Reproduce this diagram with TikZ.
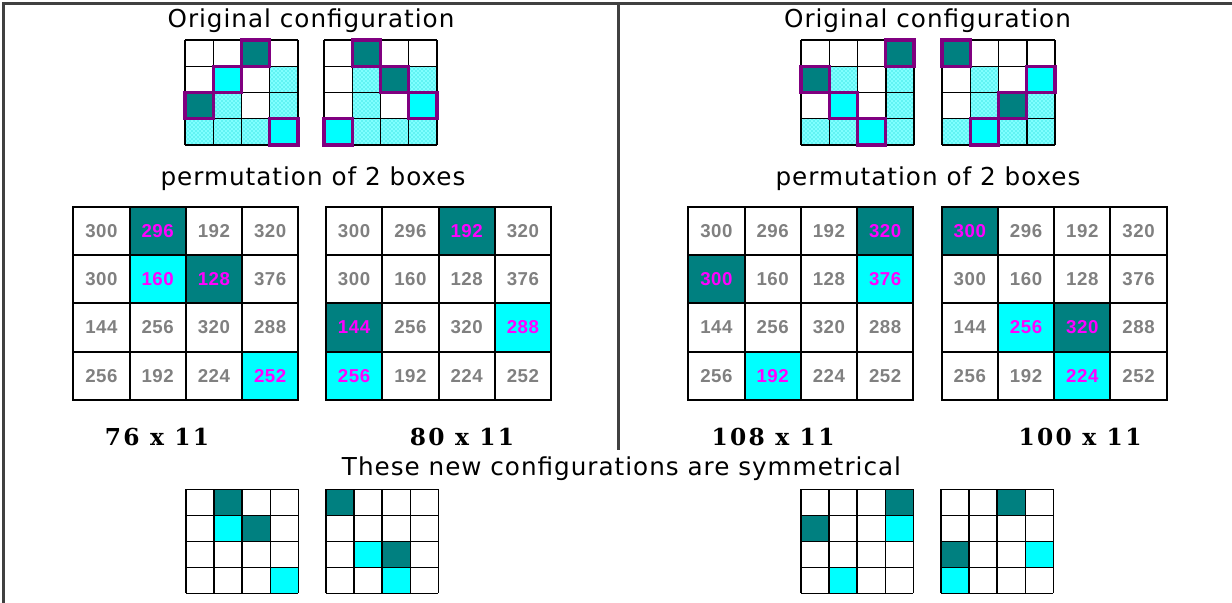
\documentclass[tikz,border=0pt]{standalone}
\usepackage{fontspec}
\usepackage{tikz}
\usetikzlibrary{patterns}
\setmainfont{DejaVu Sans}
\newfontfamily\titlefont[LetterSpace=4]{DejaVu Sans}
\newfontfamily\sizefont[LetterSpace=10]{DejaVu Serif}
\newfontfamily\numfont[LetterSpace=3]{Liberation Sans}
\definecolor{boxpurple}{RGB}{128,0,128}
\definecolor{framegray}{RGB}{64,64,64}
\definecolor{cellteal}{RGB}{0,128,128}
\definecolor{cellcyan}{RGB}{0,255,255}
\definecolor{pickmagenta}{RGB}{255,0,255}
\definecolor{numgray}{RGB}{128,128,128}

\begin{document}
\begin{tikzpicture}[x=0.75pt,y=0.75pt,yscale=-1,xscale=1,
  title/.style={anchor=base, inner sep=0pt, font=\titlefont\fontsize{18.5}{21}\selectfont},
  sizelabel/.style={anchor=base, inner sep=0pt, font=\sizefont\bfseries\fontsize{17.5}{20}\selectfont},
  tealcell/.style={fill=cellteal},
  cyancell/.style={fill=cellcyan},
  dotcell/.style={preaction={fill=cellcyan!50}, pattern=crosshatch dots, pattern color=cellcyan!80!black},
  thinline/.style={draw=black, line width=1.1pt},
  pickbox/.style={draw=boxpurple, line width=2.5pt},
  numcell/.style={draw=black, line width=1.5pt, minimum width=42.19pt, minimum height=36.23pt,
    inner sep=0pt, text=numgray, font=\numfont\bfseries\fontsize{14}{16}\selectfont},
  tealpick/.style={fill=cellteal, text=pickmagenta},
  cyanpick/.style={fill=cellcyan, text=pickmagenta},
  % picked cells of the four number grids
  perm1-0-1/.style={tealpick}, perm1-1-2/.style={tealpick},
  perm1-1-1/.style={cyanpick}, perm1-3-3/.style={cyanpick},
  perm2-0-2/.style={tealpick}, perm2-2-0/.style={tealpick},
  perm2-2-3/.style={cyanpick}, perm2-3-0/.style={cyanpick},
  perm3-0-3/.style={tealpick}, perm3-1-0/.style={tealpick},
  perm3-1-3/.style={cyanpick}, perm3-3-1/.style={cyanpick},
  perm4-0-0/.style={tealpick}, perm4-2-2/.style={tealpick},
  perm4-2-1/.style={cyanpick}, perm4-3-2/.style={cyanpick}]
\useasboundingbox (0,0) rectangle (1232,603);

%Straight Lines: frame and divider
\draw[framegray, line width=2.25pt] (3.5,603) -- (3.5,3) -- (1232,3);
\draw[framegray, line width=2pt] (618.5,3) -- (618.5,450);

% Text Node
\node[title] (origleft) at (311,27.5) {Original configuration};
% Text Node
\node[title] (origright) at (927.5,27.5) {Original configuration};

%Shape: Grid orig1
\begin{scope}[shift={(185,40)}, x=21.19pt, y=19.69pt]
\foreach \c/\r/\k in {3/1/dotcell,1/2/dotcell,3/2/dotcell,0/3/dotcell,1/3/dotcell,2/3/dotcell,
    2/0/tealcell,0/2/tealcell,1/1/cyancell,3/3/cyancell}
  \path[\k] (\c,\r) rectangle ++(1,1);
\foreach \i in {0,...,4} {\draw[thinline] (\i,0) -- (\i,4); \draw[thinline] (0,\i) -- (4,\i);}
\foreach \c/\r in {2/0,0/2,1/1,3/3} \draw[pickbox] (\c,\r) rectangle ++(1,1);
\end{scope}

%Shape: Grid orig2
\begin{scope}[shift={(324,40)}, x=21.19pt, y=19.69pt]
\foreach \c/\r/\k in {1/1/dotcell,3/1/dotcell,1/2/dotcell,1/3/dotcell,2/3/dotcell,3/3/dotcell,
    1/0/tealcell,2/1/tealcell,3/2/cyancell,0/3/cyancell}
  \path[\k] (\c,\r) rectangle ++(1,1);
\foreach \i in {0,...,4} {\draw[thinline] (\i,0) -- (\i,4); \draw[thinline] (0,\i) -- (4,\i);}
\foreach \c/\r in {1/0,2/1,3/2,0/3} \draw[pickbox] (\c,\r) rectangle ++(1,1);
\end{scope}

%Shape: Grid orig3
\begin{scope}[shift={(801,40)}, x=21.19pt, y=19.69pt]
\foreach \c/\r/\k in {1/1/dotcell,3/1/dotcell,3/2/dotcell,0/3/dotcell,1/3/dotcell,3/3/dotcell,
    3/0/tealcell,0/1/tealcell,1/2/cyancell,2/3/cyancell}
  \path[\k] (\c,\r) rectangle ++(1,1);
\foreach \i in {0,...,4} {\draw[thinline] (\i,0) -- (\i,4); \draw[thinline] (0,\i) -- (4,\i);}
\foreach \c/\r in {3/0,0/1,1/2,2/3} \draw[pickbox] (\c,\r) rectangle ++(1,1);
\end{scope}

%Shape: Grid orig4
\begin{scope}[shift={(942,40)}, x=21.19pt, y=19.69pt]
\foreach \c/\r/\k in {1/1/dotcell,1/2/dotcell,3/2/dotcell,0/3/dotcell,2/3/dotcell,3/3/dotcell,
    0/0/tealcell,2/2/tealcell,3/1/cyancell,1/3/cyancell}
  \path[\k] (\c,\r) rectangle ++(1,1);
\foreach \i in {0,...,4} {\draw[thinline] (\i,0) -- (\i,4); \draw[thinline] (0,\i) -- (4,\i);}
\foreach \c/\r in {0/0,2/2,3/1,1/3} \draw[pickbox] (\c,\r) rectangle ++(1,1);
\end{scope}

% Text Node
\node[title] (permleft) at (313,185) {permutation of 2 boxes};
% Text Node
\node[title] (permright) at (928,185) {permutation of 2 boxes};

%Shape: number grids perm1 .. perm4
\foreach \g/\gx in {1/73.3, 2/326, 3/688.3, 4/941.7}{
  \begin{scope}[shift={(\gx,206.7)}, x=42.19pt, y=36.23pt]
  \foreach \row [count=\r from 0] in {{300,296,192,320},{300,160,128,376},{144,256,320,288},{256,192,224,252}}
    \foreach \v [count=\c from 0] in \row
      \node[numcell, perm\g-\r-\c/.try] (perm\g-\r-\c) at (\c+0.5,\r+0.5) {\v};
  \end{scope}}

% Text Node
\node[sizelabel] (size1) at (157,445) {76 x 11};
% Text Node
\node[sizelabel] (size2) at (462,445) {80 x 11};
% Text Node
\node[sizelabel] (size3) at (773,445) {108 x 11};
% Text Node
\node[sizelabel] (size4) at (1080,445) {100 x 11};
% Text Node
\node[title] (symnote) at (621.5,475) {These new configurations are symmetrical};

%Shape: Grid sym1
\begin{scope}[shift={(186,489.3)}, x=21.08pt, y=19.5pt]
\foreach \c/\r/\k in {1/0/tealcell,2/1/tealcell,1/1/cyancell,3/3/cyancell}
  \path[\k] (\c,\r) rectangle ++(1,1);
\foreach \i in {0,...,4} {\draw[thinline] (\i,0) -- (\i,4); \draw[thinline] (0,\i) -- (4,\i);}
\end{scope}

%Shape: Grid sym2
\begin{scope}[shift={(326,489.3)}, x=21.08pt, y=19.5pt]
\foreach \c/\r/\k in {0/0/tealcell,2/2/tealcell,1/2/cyancell,2/3/cyancell}
  \path[\k] (\c,\r) rectangle ++(1,1);
\foreach \i in {0,...,4} {\draw[thinline] (\i,0) -- (\i,4); \draw[thinline] (0,\i) -- (4,\i);}
\end{scope}

%Shape: Grid sym3
\begin{scope}[shift={(801,489.3)}, x=21.08pt, y=19.5pt]
\foreach \c/\r/\k in {3/0/tealcell,0/1/tealcell,3/1/cyancell,1/3/cyancell}
  \path[\k] (\c,\r) rectangle ++(1,1);
\foreach \i in {0,...,4} {\draw[thinline] (\i,0) -- (\i,4); \draw[thinline] (0,\i) -- (4,\i);}
\end{scope}

%Shape: Grid sym4
\begin{scope}[shift={(941,489.3)}, x=21.08pt, y=19.5pt]
\foreach \c/\r/\k in {2/0/tealcell,0/2/tealcell,3/2/cyancell,0/3/cyancell}
  \path[\k] (\c,\r) rectangle ++(1,1);
\foreach \i in {0,...,4} {\draw[thinline] (\i,0) -- (\i,4); \draw[thinline] (0,\i) -- (4,\i);}
\end{scope}

\end{tikzpicture}
\end{document}
